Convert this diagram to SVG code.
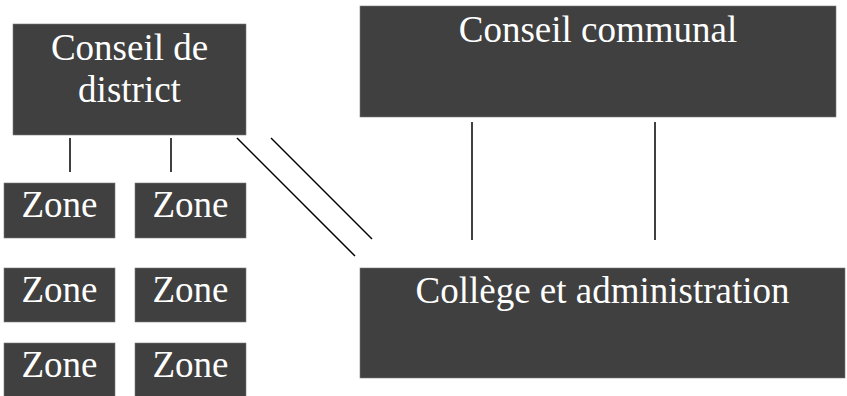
<svg xmlns="http://www.w3.org/2000/svg" width="847" height="396" viewBox="0 0 847 396">
<style>
.box{fill:#404040;stroke:#7a7a7a;stroke-width:0.6}
.t{fill:#ffffff;font-family:"Liberation Serif","Times New Roman",serif;font-size:37px;text-anchor:middle}
.c{stroke:#000;stroke-width:1.5;fill:none}
</style>
<rect width="847" height="396" fill="#ffffff"/>
<g id="connectors">
<line class="c" x1="70" y1="138" x2="70" y2="172"/>
<line class="c" x1="171" y1="138" x2="171" y2="172"/>
<line class="c" x1="237" y1="138" x2="355" y2="256"/>
<line class="c" x1="271" y1="138" x2="372" y2="239"/>
<line class="c" x1="472" y1="122" x2="472" y2="240"/>
<line class="c" x1="655" y1="122" x2="655" y2="240"/>
</g>
<g id="conseil-district">
<rect class="box" x="13" y="24" width="233" height="111"/>
<text class="t" x="129.5" y="60">Conseil de</text>
<text class="t" x="129.5" y="102">district</text>
</g>
<g id="conseil-communal">
<rect class="box" x="360" y="6" width="476" height="111"/>
<text class="t" x="598" y="42">Conseil communal</text>
</g>
<g id="college">
<rect class="box" x="360" y="268" width="485" height="110"/>
<text class="t" x="602.5" y="303">Collège et administration</text>
</g>
<g id="zone-1">
<rect class="box" x="4" y="183" width="111" height="55"/>
<text class="t" x="59.5" y="217">Zone</text>
</g>
<g id="zone-2">
<rect class="box" x="135" y="183" width="111" height="55"/>
<text class="t" x="190.5" y="217">Zone</text>
</g>
<g id="zone-3">
<rect class="box" x="4" y="268" width="111" height="54"/>
<text class="t" x="59.5" y="302">Zone</text>
</g>
<g id="zone-4">
<rect class="box" x="135" y="268" width="111" height="54"/>
<text class="t" x="190.5" y="302">Zone</text>
</g>
<g id="zone-5">
<rect class="box" x="4" y="343" width="111" height="55"/>
<text class="t" x="59.5" y="377">Zone</text>
</g>
<g id="zone-6">
<rect class="box" x="135" y="343" width="111" height="55"/>
<text class="t" x="190.5" y="377">Zone</text>
</g>
</svg>
